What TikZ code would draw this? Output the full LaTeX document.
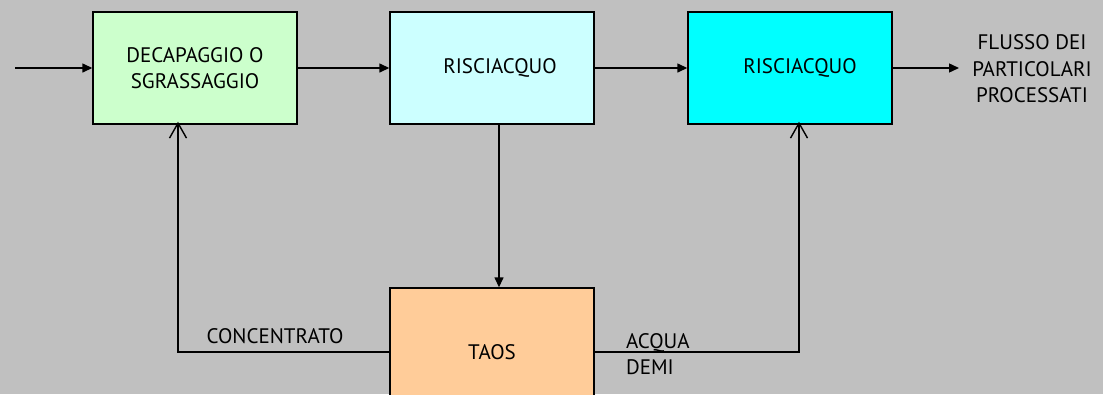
\documentclass[tikz,border=0pt]{standalone}
\usepackage{fontspec}
\setmainfont{PT Sans}
\usetikzlibrary{arrows.meta}
\tikzset {>={Triangle[length=10pt,width=9pt]}}
\definecolor{sfondo}{RGB}{192,192,192}
\definecolor{verdino}{RGB}{204,255,204}
\definecolor{azzurrino}{RGB}{204,255,255}
\definecolor{ciano}{RGB}{0,255,255}
\definecolor{pesca}{RGB}{255,204,153}
\tikzset{
  blocco/.style={draw,line width=1.4pt,minimum width=204pt,minimum height=112pt,align=center},
  testo/.style={font=\fontsize{21}{26.5}\selectfont},
  ritorno/.style={-{Straight Barb[length=15pt,width=17pt]}}
}

\begin{document}
\begin{tikzpicture}[x=1pt,y=-1pt,line width=1.4pt,testo]
\clip (0,0) rectangle (1103,394);
\fill[sfondo] (0,0) rectangle (1103,394);
\node[blocco,fill=verdino] (decap) at (195,68) {DECAPAGGIO O\\SGRASSAGGIO};
\node[blocco,fill=azzurrino] (risc1) at (492,68) {\hspace*{16pt}RISCIACQUO};
\node[blocco,fill=ciano] (risc2) at (790,68) {\hspace*{20pt}\raisebox{3.5pt}{RISCIACQUO}};
\node[blocco,fill=pesca,minimum height=128pt] (taos) at (492,352) {TAOS};
\node[align=center] (flusso) at (1032,69) {FLUSSO DEI\\PARTICOLARI\\PROCESSATI};
\node (conc) at (275,336) {CONCENTRATO};
\node[align=left,anchor=west] (demi) at (622,354) {ACQUA\\DEMI};
\coordinate (ingresso) at (15,68);
\coordinate (uscita) at (959,68);
\coordinate (a) at (178,352);
\coordinate (b) at (799,352);

\draw[->] (ingresso) -- (decap);
\draw[->] (decap) -- (risc1);
\draw[->] (risc1) -- (risc2);
\draw[->] (risc2) -- (uscita);
\draw[->] ([xshift=7pt]risc1.south) -- ([xshift=7pt]taos.north);
\draw[ritorno] (taos.west |- a) -- (a) -- ([yshift=3pt]a |- decap.south);
\draw[ritorno] (taos.east |- b) -- (b) -- ([yshift=3pt]b |- risc2.south);
\end{tikzpicture}
\end{document}
